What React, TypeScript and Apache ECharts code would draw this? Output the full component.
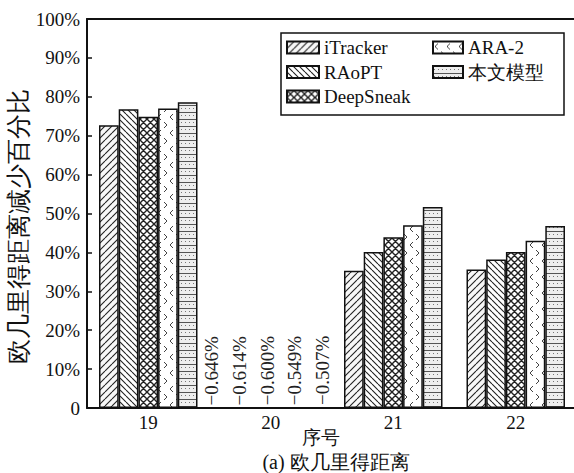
import React, { useEffect, useRef } from "react";
import * as echarts from "echarts";

const categories = ["19", "20", "21", "22"];
const seriesNames = ["iTracker", "RAoPT", "DeepSneak", "ARA-2", "本文模型"];
const iTracker = [72.7, -0.646, 35.3, 35.6];
const RAoPT = [76.8, -0.614, 40.1, 38.2];
const DeepSneak = [74.9, -0.6, 43.9, 40.1];
const ARA2 = [77.0, -0.549, 47.0, 43.0];
const ours = [78.6, -0.507, 51.7, 46.8];
const yTicks = [0, 10, 20, 30, 40, 50, 60, 70, 80, 90, 100];
const labelShift = [-19.6, -11.8, -3.5, 3.8, 12.1];

const FONT = "Liberation Serif";

function tile(w: number, h: number, bg: string, draw: (ctx: CanvasRenderingContext2D) => void) {
  const c = document.createElement("canvas");
  c.width = w;
  c.height = h;
  const ctx = c.getContext("2d")!;
  ctx.fillStyle = bg;
  ctx.fillRect(0, 0, w, h);
  draw(ctx);
  return { image: c, repeat: "repeat", imageWidth: w, imageHeight: h } as any;
}

function makePatterns() {
  const s = 7;
  const fwd = tile(s, s, "#f7f7f7", (ctx) => {
    ctx.strokeStyle = "#222";
    ctx.lineWidth = 1.1;
    ctx.beginPath();
    for (let k = -1; k <= 1; k++) {
      ctx.moveTo(k * s, s);
      ctx.lineTo(k * s + s, 0);
    }
    ctx.stroke();
  });
  const back = tile(6, 6, "#ffffff", (ctx) => {
    ctx.strokeStyle = "#222";
    ctx.lineWidth = 1.1;
    ctx.beginPath();
    for (let k = -1; k <= 1; k++) {
      ctx.moveTo(k * 6, 0);
      ctx.lineTo(k * 6 + 6, 6);
    }
    ctx.stroke();
  });
  const cross = tile(7, 7, "#ffffff", (ctx) => {
    ctx.strokeStyle = "#222";
    ctx.lineWidth = 1.4;
    ctx.beginPath();
    for (let k = -1; k <= 1; k++) {
      ctx.moveTo(k * 7, 7);
      ctx.lineTo(k * 7 + 7, 0);
      ctx.moveTo(k * 7, 0);
      ctx.lineTo(k * 7 + 7, 7);
    }
    ctx.stroke();
  });
  const chev = tile(12, 16, "#ffffff", (ctx) => {
    ctx.strokeStyle = "#444";
    ctx.lineWidth = 1;
    ctx.beginPath();
    ctx.moveTo(5, 2);
    ctx.lineTo(2, 5);
    ctx.lineTo(5, 8);
    ctx.moveTo(8, 10);
    ctx.lineTo(11, 13);
    ctx.lineTo(8, 16);
    ctx.stroke();
  });
  const brick = tile(4, 7, "#eeeeee", (ctx) => {
    ctx.fillStyle = "#555";
    ctx.fillRect(0, 0, 4, 1);
    ctx.fillStyle = "#777";
    ctx.fillRect(1, 3, 1, 1);
  });
  return [fwd, back, cross, chev, brick];
}

export default function App() {
  const ref = useRef<HTMLDivElement>(null);
  useEffect(() => {
    document.body.style.margin = "0";
    const chart = echarts.init(ref.current!, undefined, { renderer: "svg" });
    const patterns = makePatterns();
    const values = [iTracker, RAoPT, DeepSneak, ARA2, ours];
    const series = values.map((arr, i) => ({
      name: seriesNames[i],
      type: "bar",
      xAxisIndex: 0,
      barWidth: 19.7,
      barGap: "0%",
      clip: false,
      itemStyle: { color: patterns[i], borderColor: "#111", borderWidth: 1.5 },
      label: {
        show: false,
        position: "insideBottom",
        rotate: 90,
        align: "left",
        verticalAlign: "middle",
        distance: 5,
        offset: [0, labelShift[i]],
        fontFamily: FONT,
        fontSize: 19,
        color: "#222",
        formatter: (p: any) => "\u2212" + Math.abs(p.value).toFixed(3) + "%",
      },
      data: arr.map((v) =>
        v < 0
          ? {
              value: v,
              itemStyle: { color: "rgba(0,0,0,0)", borderWidth: 0 },
              label: { show: true },
            }
          : v
      ),
    }));
    chart.setOption({
      animation: false,
      grid: {
        left: 87,
        right: -3,
        top: 19,
        bottom: 65,
        show: false,
        containLabel: false,
        outerBoundsMode: "none",
      },
      xAxis: [
        {
          type: "category",
          data: categories,
          position: "bottom",
          axisLine: { lineStyle: { color: "#111", width: 2 } },
          axisTick: { show: false },
          axisLabel: { fontFamily: FONT, fontSize: 19, color: "#111", margin: 5 },
          name: "序号",
          nameLocation: "middle",
          nameGap: 20,
          nameMoveOverlap: false,
          nameTextStyle: { fontFamily: FONT, fontSize: 19, color: "#111", padding: [0, 22, 0, 0] },
        },
        {
          type: "category",
          data: categories,
          position: "top",
          axisLine: { lineStyle: { color: "#111", width: 2 } },
          axisTick: { show: false },
          axisLabel: { show: false },
        },
      ],
      yAxis: {
        type: "value",
        min: yTicks[0],
        max: yTicks[yTicks.length - 1],
        interval: 10,
        splitLine: { show: false },
        axisLine: { show: true, lineStyle: { color: "#111", width: 2 } },
        axisTick: { show: true, inside: true, length: 5, lineStyle: { color: "#111", width: 1.5 } },
        axisLabel: {
          fontFamily: FONT,
          fontSize: 19,
          color: "#111",
          margin: 7,
          formatter: (v: number) => (v === 0 ? "0" : v + "%"),
        },
        name: "欧几里得距离减少百分比",
        nameLocation: "middle",
        nameGap: 56,
        nameMoveOverlap: false,
        nameTextStyle: { fontFamily: FONT, fontSize: 25, color: "#111", padding: [0, 26, 0, 0] },
      },
      legend: [
        {
          data: seriesNames.slice(0, 3),
          orient: "vertical",
          left: 286,
          top: 38,
          padding: 0,
          itemWidth: 32,
          itemHeight: 12,
          itemGap: 5.5,
          icon: "rect",
          textStyle: { fontFamily: FONT, fontSize: 19, color: "#111" },
          z: 5,
        },
        {
          data: seriesNames.slice(3),
          orient: "vertical",
          left: 432,
          top: 38,
          padding: 0,
          itemWidth: 30,
          itemHeight: 12,
          itemGap: 5.5,
          icon: "rect",
          textStyle: { fontFamily: FONT, fontSize: 19, color: "#111" },
          z: 5,
        },
      ],
      graphic: [
        {
          type: "rect",
          z: 1,
          shape: { x: 281, y: 33, width: 283, height: 82 },
          style: { fill: "#fff", stroke: "#111", lineWidth: 1.5 },
        },
        {
          type: "text",
          x: 336,
          y: 462,
          style: {
            text: "(a) 欧几里得距离",
            font: `20px ${FONT}`,
            fill: "#111",
            textAlign: "center",
            textVerticalAlign: "middle",
          },
        },
      ],
      series,
    });
    return () => chart.dispose();
  }, []);
  return <div ref={ref} style={{ width: 574, height: 473 }} />;
}
